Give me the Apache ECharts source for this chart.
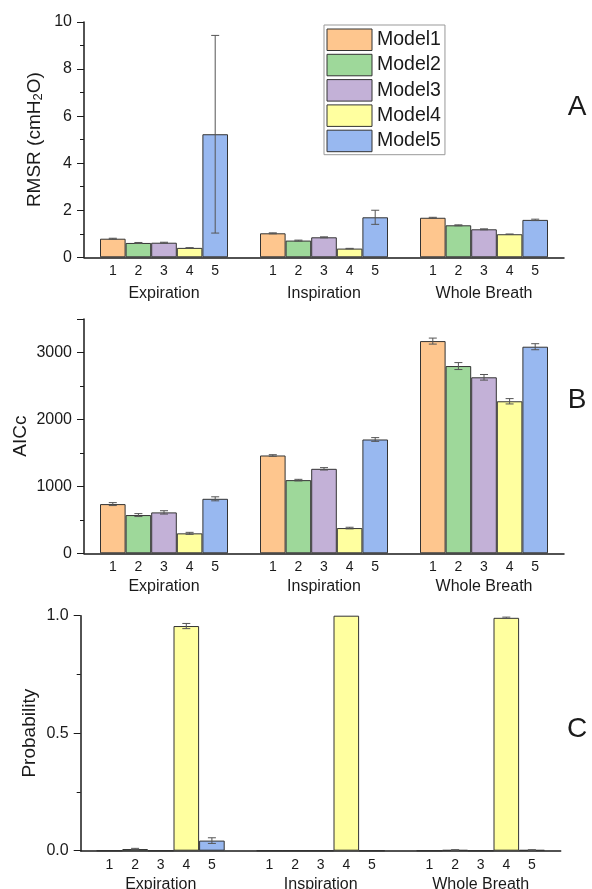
<!DOCTYPE html>
<html>
<head>
<meta charset="utf-8">
<script src="https://cdn.jsdelivr.net/npm/echarts@6/dist/echarts.min.js"></script>
<style>
  html, body { margin: 0; padding: 0; background: #fff; }
  #chart { width: 592px; height: 889px; }
</style>
</head>
<body>
<div id="chart"></div>
<script>
// categories
const groups = ['Expiration', 'Inspiration', 'Whole Breath'];
const models = ['Model1', 'Model2', 'Model3', 'Model4', 'Model5'];
const colors = ['#fec68e', '#9ed89a', '#c3b1d7', '#ffff9f', '#98b8f0'];

// values per model, one entry per group (Expiration, Inspiration, Whole Breath)
const rmsr = [[0.79, 1.02, 1.68], [0.61, 0.71, 1.36], [0.62, 0.85, 1.19], [0.40, 0.37, 0.98], [5.23, 1.70, 1.59]];
const rmsrErr = [[0.02, 0.02, 0.02], [0.02, 0.02, 0.02], [0.02, 0.02, 0.02], [0.01, 0.01, 0.01], [4.2, 0.3, 0.03]];
const aicc = [[735, 1461, 3170], [571, 1093, 2797], [611, 1262, 2629], [298, 377, 2271], [814, 1700, 3086]];
const aiccErr = [[22, 12, 45], [22, 12, 52], [25, 18, 42], [15, 12, 40], [30, 28, 45]];
const prob = [[0, 0, 0], [0.007, 0, 0.003], [0, 0, 0], [0.956, 1.0, 0.991], [0.043, 0, 0.003]];
const probErr = [[0, 0, 0], [0.003, 0, 0.001], [0, 0, 0], [0.011, 0, 0.003], [0.012, 0, 0.001]];

const FONT = '"Liberation Sans", Arial, sans-serif';
const INK = '#1a1a1a';

const chart = echarts.init(document.getElementById('chart'), null, { renderer: 'canvas' });

function errRender(params, api) {
  const cat = api.value(0);
  const m = api.value(3);
  const band = api.size([1, 0])[0];
  const x = api.coord([cat, 0])[0] + (m - 2) * band * 0.16;
  const v = api.value(1), e = api.value(2);
  const hi = api.coord([cat, v + e])[1];
  const lo = api.coord([cat, Math.max(0, v - e)])[1];
  const style = { stroke: '#555', lineWidth: 1 };
  return {
    type: 'group',
    children: [
      { type: 'line', shape: { x1: x, y1: hi, x2: x, y2: lo }, style },
      { type: 'line', shape: { x1: x - 4, y1: hi, x2: x + 4, y2: hi }, style },
      { type: 'line', shape: { x1: x - 4, y1: lo, x2: x + 4, y2: lo }, style }
    ]
  };
}

function panelSeries(idx, vals, errs) {
  const out = models.map((name, m) => ({
    type: 'bar',
    name,
    xAxisIndex: idx,
    yAxisIndex: idx,
    data: vals[m],
    barGap: 0,
    barCategoryGap: '20%',
    itemStyle: { color: colors[m], borderColor: '#333', borderWidth: 1 },
    label: {
      show: true, position: 'bottom', distance: 7,
      formatter: String(m + 1), fontSize: 14, color: INK, fontFamily: FONT
    },
    emphasis: { disabled: true },
    animation: false
  }));
  const errData = [];
  models.forEach((name, m) => {
    groups.forEach((g, gi) => {
      if (errs[m][gi] > 0) errData.push([gi, vals[m][gi], errs[m][gi], m]);
    });
  });
  out.push({
    type: 'custom',
    xAxisIndex: idx,
    yAxisIndex: idx,
    renderItem: errRender,
    encode: { x: 0, y: 1 },
    data: errData,
    z: 5,
    silent: true,
    animation: false
  });
  return out;
}

function xAxisFor(idx, margin) {
  return {
    type: 'category', gridIndex: idx, data: groups,
    axisTick: { show: false },
    axisLine: { lineStyle: { color: INK, width: 1.5 } },
    axisLabel: { fontSize: 16, margin, color: INK, fontFamily: FONT },
    splitLine: { show: false }
  };
}

function yAxisFor(idx, opts) {
  return Object.assign({
    type: 'value', gridIndex: idx,
    nameLocation: 'middle', nameRotate: 90, nameMoveOverlap: false,
    nameTextStyle: { fontSize: 19, color: INK, fontFamily: FONT },
    axisLine: { show: true, lineStyle: { color: INK, width: 1.5 } },
    axisTick: { show: true, length: 7, lineStyle: { color: INK, width: 1 } },
    minorTick: { show: true, splitNumber: 2, length: 4, lineStyle: { color: INK, width: 1 } },
    axisLabel: { fontSize: 16, margin: 12, color: INK, fontFamily: FONT, formatter: v => String(v) },
    splitLine: { show: false }
  }, opts);
}

const option = {
  backgroundColor: '#fff',
  animation: false,
  textStyle: { fontFamily: FONT },
  grid: [
    { left: 84, top: 22, width: 480, height: 235.3, outerBoundsMode: 'none', containLabel: false },
    { left: 84, top: 319, width: 480, height: 234.3, outerBoundsMode: 'none', containLabel: false },
    { left: 80.7, top: 615.7, width: 480, height: 235, outerBoundsMode: 'none', containLabel: false }
  ],
  legend: {
    data: models,
    orient: 'vertical',
    left: 324,
    top: 25,
    icon: 'rect',
    itemWidth: 45,
    itemHeight: 21.5,
    itemGap: 2.8,
    padding: [3.5, 4, 2.5, 2.5],
    borderColor: '#999',
    borderWidth: 1,
    selectedMode: false,
    itemStyle: { borderColor: '#333', borderWidth: 1 },
    textStyle: { fontSize: 19.5, color: INK, fontFamily: FONT }
  },
  xAxis: [xAxisFor(0, 28), xAxisFor(1, 25), xAxisFor(2, 26)],
  yAxis: [
    yAxisFor(0, {
      min: 0, max: 10, interval: 2,
      name: 'RMSR (cmH{sub|2}O)', nameGap: 39,
      nameTextStyle: {
        fontSize: 19, color: INK, fontFamily: FONT,
        rich: { sub: { fontSize: 13, color: INK, fontFamily: FONT, verticalAlign: 'bottom', padding: [8, 0, 0, 0] } }
      }
    }),
    yAxisFor(1, {
      min: 0, max: 3500, interval: 1000, name: 'AICc', nameGap: 54,
      axisLabel: { fontSize: 16, margin: 12, color: INK, fontFamily: FONT, formatter: v => (v % 1000 === 0 ? String(v) : '') }
    }),
    yAxisFor(2, {
      min: 0, max: 1, interval: 0.5, name: 'Probability', nameGap: 41,
      axisLabel: { fontSize: 16, margin: 12, color: INK, fontFamily: FONT, formatter: v => v.toFixed(1) }
    })
  ],
  series: [].concat(
    panelSeries(0, rmsr, rmsrErr),
    panelSeries(1, aicc, aiccErr),
    panelSeries(2, prob, probErr)
  ),
  graphic: [
    { type: 'text', x: 577, y: 107, style: { text: 'A', fill: INK, font: '28px ' + FONT, align: 'center', verticalAlign: 'middle' } },
    { type: 'text', x: 577, y: 400, style: { text: 'B', fill: INK, font: '28px ' + FONT, align: 'center', verticalAlign: 'middle' } },
    { type: 'text', x: 577, y: 729, style: { text: 'C', fill: INK, font: '28px ' + FONT, align: 'center', verticalAlign: 'middle' } }
  ]
};

chart.setOption(option);
</script>
</body>
</html>
